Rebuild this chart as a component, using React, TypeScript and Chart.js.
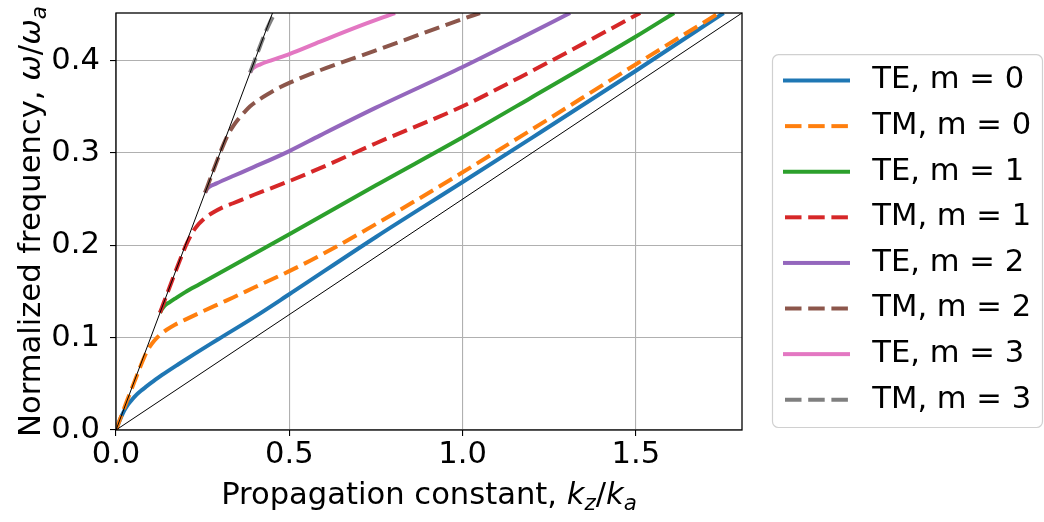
import React, { useEffect, useRef } from 'react';
import { Chart, registerables } from 'chart.js';

Chart.register(...registerables);

const FONT = "'DejaVu Sans', sans-serif";
const FONT_SIZE = 30.6;

// Axes
const xMax = 1.806;
const yMax = 0.4515;
const xTicks = [0, 0.5, 1.0, 1.5];
const yTicks = [0, 0.1, 0.2, 0.3, 0.4];

// Series labels / styles
const seriesLabels = ['TE, m = 0', 'TM, m = 0', 'TE, m = 1', 'TM, m = 1', 'TE, m = 2', 'TM, m = 2', 'TE, m = 3', 'TM, m = 3'];
const seriesColors = ['#1f77b4', '#ff7f0e', '#2ca02c', '#d62728', '#9467bd', '#8c564b', '#e377c2', '#7f7f7f'];
const seriesDashed = [false, true, false, true, false, true, false, true];

// Data (kz/ka, w/wa)
const te0X = [0, 0.008, 0.017, 0.025, 0.035, 0.046, 0.058, 0.072, 0.088, 0.105, 0.133, 0.181, 0.229, 0.296, 0.4, 0.5, 0.75, 1.0, 1.194, 1.5, 1.753];
const te0Y = [0, 0.0079, 0.0158, 0.0218, 0.0278, 0.0328, 0.0378, 0.0425, 0.0472, 0.052, 0.0596, 0.0715, 0.083, 0.0985, 0.1225, 0.147, 0.209, 0.2685, 0.315, 0.389, 0.4515];

const tm0X = [0, 0.03, 0.056, 0.075, 0.088, 0.098, 0.108, 0.12, 0.133, 0.146, 0.17, 0.2, 0.242, 0.3, 0.338, 0.4, 0.5, 0.589, 0.75, 0.863, 1.0, 1.194, 1.5, 1.74];
const tm0Y = [0, 0.03, 0.055, 0.073, 0.084, 0.0905, 0.0955, 0.1005, 0.105, 0.1085, 0.114, 0.1195, 0.127, 0.137, 0.1435, 0.1545, 0.172, 0.189, 0.223, 0.248, 0.279, 0.324, 0.396, 0.4515];

const te1X = [0.127, 0.132, 0.14, 0.155, 0.17, 0.2, 0.242, 0.338, 0.5, 0.75, 1.0, 1.194, 1.5, 1.61];
const te1Y = [0.127, 0.1305, 0.1345, 0.1385, 0.1422, 0.1493, 0.158, 0.178, 0.212, 0.265, 0.317, 0.359, 0.426, 0.4515];

const tm1X = [0.127, 0.16, 0.185, 0.195, 0.205, 0.215, 0.225, 0.235, 0.245, 0.26, 0.28, 0.31, 0.338, 0.4, 0.5, 0.589, 0.75, 1.0, 1.166, 1.257, 1.512];
const tm1Y = [0.127, 0.16, 0.1845, 0.194, 0.2025, 0.21, 0.2165, 0.2215, 0.2255, 0.2305, 0.2355, 0.2415, 0.2455, 0.255, 0.2695, 0.2835, 0.3105, 0.3505, 0.382, 0.4, 0.4515];

const te2X = [0.257, 0.262, 0.27, 0.29, 0.338, 0.387, 0.5, 0.589, 0.75, 1.0, 1.166, 1.31];
const te2Y = [0.257, 0.2605, 0.2635, 0.267, 0.275, 0.283, 0.302, 0.319, 0.349, 0.393, 0.424, 0.4515];

const tm2X = [0.257, 0.29, 0.31, 0.325, 0.338, 0.355, 0.37, 0.387, 0.41, 0.435, 0.473, 0.5, 0.589, 0.75, 1.0, 1.05];
const tm2Y = [0.257, 0.29, 0.309, 0.321, 0.329, 0.3375, 0.344, 0.3505, 0.357, 0.363, 0.371, 0.3758, 0.3895, 0.411, 0.445, 0.4515];

const te3X = [0.387, 0.392, 0.4, 0.415, 0.45, 0.5, 0.589, 0.7, 0.805];
const te3Y = [0.387, 0.3905, 0.393, 0.3957, 0.4005, 0.407, 0.4205, 0.437, 0.4515];

const tm3X = [0.387, 0.41, 0.43, 0.445, 0.459];
const tm3Y = [0.387, 0.41, 0.4295, 0.442, 0.4515];

// Light lines: w = k (core) and w = k/4 (cladding)
const lightX = [0, 1.806];
const coreLightY = [0, 1.806];
const cladLightY = [0, 0.4515];

const seriesX = [te0X, tm0X, te1X, tm1X, te2X, tm2X, te3X, tm3X];
const seriesY = [te0Y, tm0Y, te1Y, tm1Y, te2Y, tm2Y, te3Y, tm3Y];

const X_TITLE = [
  { text: 'Propagation constant, ' },
  { text: 'k', italic: true },
  { text: 'z', italic: true, sub: true },
  { text: '/' },
  { text: 'k', italic: true },
  { text: 'a', italic: true, sub: true },
];
const Y_TITLE = [
  { text: 'Normalized frequency, ' },
  { text: 'ω', italic: true },
  { text: '/' },
  { text: 'ω', italic: true },
  { text: 'a', italic: true, sub: true },
];

const DASH = [15.5, 6.7];
const LINE_W = 4;
const HANDLE_W = 74;

function makeHandle(color: string, dashed: boolean) {
  const c = document.createElement('canvas');
  c.width = HANDLE_W;
  c.height = 10;
  const g = c.getContext('2d')!;
  g.strokeStyle = color;
  g.lineWidth = LINE_W;
  g.beginPath();
  if (dashed) {
    g.setLineDash([16.5, 6.7]);
    g.moveTo(2, 5);
    g.lineTo(65, 5);
  } else {
    g.moveTo(0, 5);
    g.lineTo(67, 5);
  }
  g.stroke();
  return c;
}

function drawRich(ctx: CanvasRenderingContext2D, segs: any[], cx: number, baseY: number) {
  const fontFor = (s: any) => `${s.italic ? 'italic ' : ''}${s.sub ? FONT_SIZE * 0.7 : FONT_SIZE}px ${FONT}`;
  const widths: number[] = [];
  let total = 0;
  for (const s of segs) {
    ctx.font = fontFor(s);
    const w = ctx.measureText(s.text).width;
    widths.push(w);
    total += w;
  }
  let x = cx - total / 2;
  ctx.textAlign = 'left';
  ctx.textBaseline = 'alphabetic';
  segs.forEach((s, i) => {
    ctx.font = fontFor(s);
    ctx.fillText(s.text, x, baseY + (s.sub ? FONT_SIZE * 0.2 : 0));
    x += widths[i];
  });
}

const decorPlugin = {
  id: 'decor',
  beforeDraw(chart: any) {
    const { ctx } = chart;
    ctx.save();
    ctx.fillStyle = '#ffffff';
    ctx.fillRect(0, 0, chart.width, chart.height);
    const hb = chart.legend && chart.legend.legendHitBoxes;
    if (hb && hb.length) {
      const first = hb[0];
      const last = hb[hb.length - 1];
      const l = first.left - 10.5;
      const t = first.top - 10.5;
      const r = chart.width - 1.5;
      const b = last.top + last.height + 12.5;
      const rad = 6;
      ctx.beginPath();
      ctx.moveTo(l + rad, t);
      ctx.lineTo(r - rad, t);
      ctx.arcTo(r, t, r, t + rad, rad);
      ctx.lineTo(r, b - rad);
      ctx.arcTo(r, b, r - rad, b, rad);
      ctx.lineTo(l + rad, b);
      ctx.arcTo(l, b, l, b - rad, rad);
      ctx.lineTo(l, t + rad);
      ctx.arcTo(l, t, l + rad, t, rad);
      ctx.closePath();
      ctx.fillStyle = 'rgba(255,255,255,0.8)';
      ctx.fill();
      ctx.strokeStyle = '#d0d0d0';
      ctx.lineWidth = 1.2;
      ctx.stroke();
    }
    ctx.restore();
  },
  afterDatasetsDraw(chart: any) {
    const { ctx, chartArea: a } = chart;
    ctx.save();
    ctx.strokeStyle = '#000';
    ctx.lineWidth = 1.3;
    ctx.strokeRect(a.left, a.top, a.right - a.left, a.bottom - a.top);
    ctx.restore();
  },
  afterDraw(chart: any) {
    const { ctx, chartArea: a } = chart;
    ctx.save();
    ctx.fillStyle = '#000';
    drawRich(ctx, X_TITLE, (a.left + a.right) / 2, a.bottom + 74);
    ctx.translate(a.left - 76, (a.top + a.bottom) / 2);
    ctx.rotate(-Math.PI / 2);
    drawRich(ctx, Y_TITLE, 0, 0);
    ctx.restore();
  },
};

const zeroPad = (s: any) => {
  s.paddingTop = 0;
  s.paddingBottom = 0;
  s.paddingLeft = 0;
  s.paddingRight = 0;
};

export default function App() {
  const canvasRef = useRef<HTMLCanvasElement | null>(null);

  useEffect(() => {
    if (!canvasRef.current) return;
    const modeSets = seriesLabels.map((label, i) => ({
      label,
      data: seriesX[i].map((x, j) => ({ x, y: seriesY[i][j] })),
      borderColor: seriesColors[i],
      backgroundColor: seriesColors[i],
      borderWidth: LINE_W,
      borderDash: seriesDashed[i] ? DASH : [],
      pointRadius: 0,
      pointHoverRadius: 0,
      pointStyle: makeHandle(seriesColors[i], seriesDashed[i]),
      cubicInterpolationMode: 'monotone' as const,
      fill: false,
      clip: 0,
      order: 20 - i,
    }));
    const lightSets = [coreLightY, cladLightY].map((ys) => ({
      label: '',
      data: lightX.map((x, j) => ({ x, y: ys[j] })),
      borderColor: '#000000',
      backgroundColor: '#000000',
      borderWidth: 1,
      pointRadius: 0,
      pointHoverRadius: 0,
      tension: 0,
      fill: false,
      clip: 0,
      order: 0,
    }));

    const tickFont = { family: FONT, size: FONT_SIZE };
    const chart = new Chart(canvasRef.current, {
      type: 'line',
      data: { datasets: [...modeSets, ...lightSets] as any },
      plugins: [decorPlugin],
      options: {
        responsive: false,
        animation: false,
        events: [],
        layout: { padding: { top: 13, left: 0, right: 6, bottom: 0 } },
        scales: {
          x: {
            type: 'linear',
            min: 0,
            max: xMax,
            afterBuildTicks: (s: any) => {
              s.ticks = xTicks.map((value) => ({ value }));
            },
            afterFit: (s: any) => {
              s.height = 92;
              zeroPad(s);
            },
            ticks: {
              callback: (v: any) => Number(v).toFixed(1),
              font: tickFont,
              color: '#000',
              padding: 1,
              maxRotation: 0,
              autoSkip: false,
            },
            grid: { color: '#b0b0b0', lineWidth: 1.1, tickColor: '#000', tickLength: 6, tickWidth: 1.1 },
            border: { display: false },
          },
          y: {
            type: 'linear',
            min: 0,
            max: yMax,
            afterBuildTicks: (s: any) => {
              s.ticks = yTicks.map((value) => ({ value }));
            },
            afterFit: (s: any) => {
              s.width = 116;
              zeroPad(s);
            },
            ticks: {
              callback: (v: any) => Number(v).toFixed(1),
              font: tickFont,
              color: '#000',
              padding: 10,
              autoSkip: false,
            },
            grid: { color: '#b0b0b0', lineWidth: 1.1, tickColor: '#000', tickLength: 6, tickWidth: 1.1 },
            border: { display: false },
          },
          yPad: {
            type: 'linear',
            position: 'right',
            display: true,
            grid: { display: false, drawTicks: false },
            ticks: { display: false },
            border: { display: false },
            afterFit: (s: any) => {
              s.width = 26;
              zeroPad(s);
            },
          },
        } as any,
        plugins: {
          tooltip: { enabled: false },
          title: { display: false },
          legend: {
            display: true,
            position: 'right',
            align: 'end',
            fullSize: false,
            maxWidth: 270,
            labels: {
              usePointStyle: true,
              pointStyleWidth: HANDLE_W,
              boxHeight: 10,
              padding: 15,
              color: '#000',
              font: { family: FONT, size: FONT_SIZE },
              filter: (item: any) => item.datasetIndex < seriesLabels.length,
              sort: (a: any, b: any) => a.datasetIndex - b.datasetIndex,
            },
          } as any,
        },
      },
    });
    return () => chart.destroy();
  }, []);

  return (
    <div style={{ position: 'fixed', left: 0, top: 0, width: 1044, height: 522, background: '#fff' }}>
      <canvas ref={canvasRef} width={1044} height={522} style={{ display: 'block' }} />
    </div>
  );
}
